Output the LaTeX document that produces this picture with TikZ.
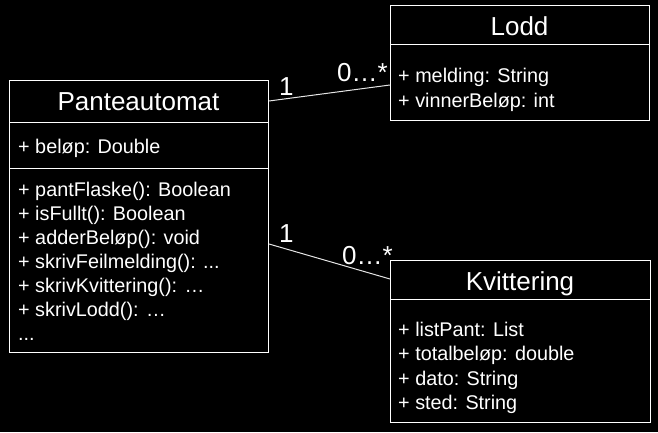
\documentclass[tikz,border=0pt]{standalone}
\usepackage{fontspec}
\setmainfont{Liberation Sans}
\begin{document}
\begin{tikzpicture}[x=1pt,y=1pt,
  box/.style={draw=white, line width=1pt, inner sep=0, anchor=south west},
  classtitle/.style={text=white, font=\fontsize{26}{30}\selectfont, anchor=base, inner sep=0},
  member/.style={text=white, font=\fontsize{19.8}{24}\selectfont, anchor=base west, inner sep=0},
  mult/.style={text=white, font=\fontsize{26}{30}\selectfont, anchor=base west, inner sep=0},
  divider/.style={draw=white, line width=1pt},
  assoc/.style={draw=white!90!black, line width=1pt}]
\fill[black] (0,0) rectangle (658,432);
\useasboundingbox (0,0) rectangle (658,432);

% Panteautomat
\node[box, minimum width=259pt, minimum height=272pt] (pante) at (9,79) {};
\draw[divider] (pante.west |- 0,310) -- (pante.east |- 0,310);
\draw[divider] (pante.west |- 0,264) -- (pante.east |- 0,264);
\node[classtitle] (ptitle) at (138.5,321) {Panteautomat};
\node[member] (pa1) at (18,279) {+ beløp: Double};
\node[member] (pm1) at (18,236) {+ pantFlaske(): Boolean};
\node[member] (pm2) at (18,212) {+ isFullt(): Boolean};
\node[member] (pm3) at (18,188) {+ adderBeløp(): void};
\node[member] (pm4) at (18,164) {+ skrivFeilmelding(): ...};
\node[member] (pm5) at (18,140) {+ skrivKvittering(): …};
\node[member] (pm6) at (18,116) {+ skrivLodd(): …};
\node[member] (pm7) at (18,92) {...};

% Lodd
\node[box, minimum width=259pt, minimum height=115pt] (lodd) at (390,311) {};
\draw[divider] (lodd.west |- 0,387) -- (lodd.east |- 0,387);
\node[classtitle] (ltitle) at (519.5,396) {Lodd};
\node[member] (la1) at (398,349) {+ melding: String};
\node[member] (la2) at (398,325) {+ vinnerBeløp: int};

% Kvittering
\node[box, minimum width=260pt, minimum height=162pt] (kvit) at (390,9) {};
\draw[divider] (kvit.west |- 0,133) -- (kvit.east |- 0,133);
\node[classtitle] (ktitle) at (520,142) {Kvittering};
\node[member] (ka1) at (398,96) {+ listPant: List};
\node[member] (ka2) at (398,72) {+ totalbeløp: double};
\node[member] (ka3) at (398,47) {+ dato: String};
\node[member] (ka4) at (398,23) {+ sted: String};

% Associations
\coordinate (pl) at (pante.east |- 0,331);
\coordinate (lp) at (lodd.west |- 0,347);
\draw[assoc] (pl) -- (lp);
\coordinate (pk) at (pante.east |- 0,188);
\coordinate (kp) at (kvit.west |- 0,153);
\draw[assoc] (pk) -- (kp);

\node[mult] (m1) at (279,337) {1};
\node[mult] (m2) at (337,350) {0…*};
\node[mult] (m3) at (279,190) {1};
\node[mult] (m4) at (342,168) {0…*};
\end{tikzpicture}
\end{document}
